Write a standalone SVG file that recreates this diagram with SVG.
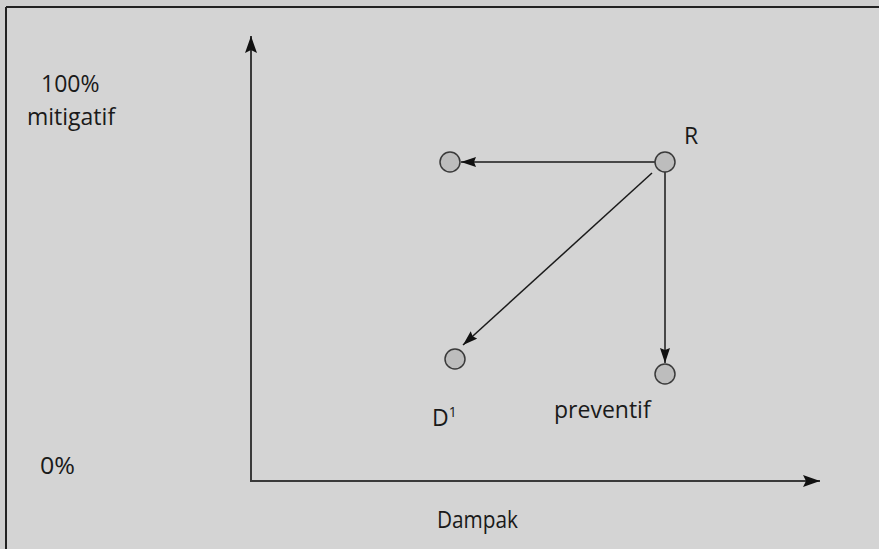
<svg xmlns="http://www.w3.org/2000/svg" width="879" height="549" viewBox="0 0 879 549">
<style>
text{font-family:"Open Sans","Noto Sans","DejaVu Sans",sans-serif;font-size:23px;fill:#1a1a1a}
.ax{stroke:#3a3a3a;stroke-width:2;fill:none}
.ln{stroke:#1a1a1a;stroke-width:1.5;fill:none}
.nd{fill:#bdbdbd;stroke:#3a3a3a;stroke-width:1.5}
</style>
<defs>
<marker id="big" markerUnits="userSpaceOnUse" markerWidth="18" markerHeight="14" refX="17" refY="6" orient="auto">
<path d="M0,0 L17,6 L0,12 L3,6 Z" fill="#111"/>
</marker>
<marker id="sm" markerUnits="userSpaceOnUse" markerWidth="16" markerHeight="12" refX="15" refY="5" orient="auto">
<path d="M0,0 L15,5 L0,10 L2,5 Z" fill="#111"/>
</marker>
</defs>
<rect width="879" height="549" fill="#cfcfcf"/>
<rect x="6" y="7" width="873" height="542" fill="#d4d4d4"/>
<line x1="6" y1="7" x2="879" y2="7" stroke="#222" stroke-width="2"/>
<line x1="6" y1="7" x2="6" y2="549" stroke="#222" stroke-width="2"/>
<g id="axes">
<line class="ax" x1="251" y1="482" x2="251" y2="36" marker-end="url(#big)"/>
<line class="ax" x1="250" y1="481" x2="820" y2="481" marker-end="url(#big)"/>
</g>
<g id="connectors">
<line class="ln" x1="655" y1="162" x2="461" y2="162" marker-end="url(#sm)"/>
<line class="ln" x1="652" y1="173" x2="463" y2="345" marker-end="url(#sm)"/>
<line class="ln" x1="665" y1="172" x2="665" y2="363" marker-end="url(#sm)"/>
</g>
<g id="nodeR"><circle class="nd" cx="665" cy="162" r="10"/><text x="684" y="144">R</text></g>
<g id="nodeM"><circle class="nd" cx="450" cy="162" r="10"/></g>
<g id="nodeD"><circle class="nd" cx="455" cy="359" r="10"/><text x="432" y="426">D<tspan font-size="14" dy="-9">1</tspan></text></g>
<g id="nodeP"><circle class="nd" cx="665" cy="374" r="10"/><text x="554" y="418">preventif</text></g>
<g id="labels">
<text x="41" y="92">100%</text>
<text x="27" y="125">mitigatif</text>
<text x="40" y="474" textLength="35" lengthAdjust="spacingAndGlyphs">0%</text>
<text x="437" y="528" textLength="81" lengthAdjust="spacingAndGlyphs">Dampak</text>
</g>
</svg>
